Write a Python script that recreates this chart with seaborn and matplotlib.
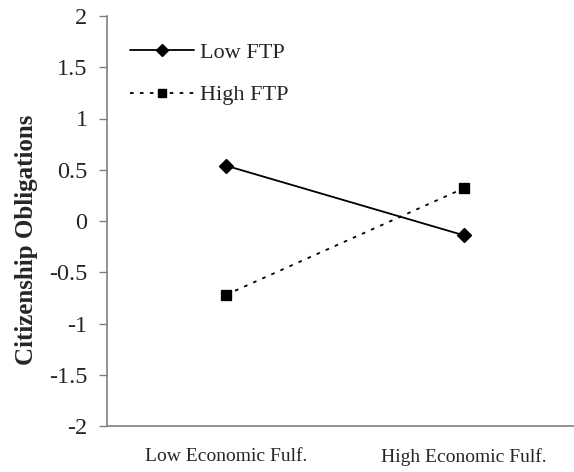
import matplotlib
matplotlib.use("Agg")
import matplotlib.pyplot as plt
from matplotlib.lines import Line2D
import seaborn as sns
import pandas as pd

conditions = ["Low Economic Fulf.", "High Economic Fulf."]
groups = ["Low FTP", "High FTP"]
low_ftp = [0.54, -0.14]
high_ftp = [-0.72, 0.32]
y_ticks = [-2, -1.5, -1, -0.5, 0, 0.5, 1, 1.5, 2]

df = pd.DataFrame({
    "condition": conditions * 2,
    "group": [groups[0]] * 2 + [groups[1]] * 2,
    "value": low_ftp + high_ftp,
})

sns.set_style("white")
plt.rcParams["font.family"] = ["Liberation Serif", "DejaVu Serif"]

dotted = (0, (2, 3.5))

fig = plt.figure(figsize=(5.74, 4.72), dpi=100)
ax = fig.add_axes([107 / 574, 1 - 426 / 472, 476 / 574, 410 / 472])

sns.pointplot(data=df, x="condition", y="value", hue="group", order=conditions,
              hue_order=groups, palette=["black", "black"], markers=["D", "s"],
              linestyles=["-", dotted], markersize=7, linewidth=1.3,
              legend=False, ax=ax)

lines = [l for l in ax.get_lines() if len(l.get_xdata()) == 2]
for l, ms in zip(lines, [7, 6.5]):
    l.set_markersize(ms)

ax.set_xlim(-0.5, 1.5)
ax.set_ylim(-2, 2)
ax.set_yticks(y_ticks)
ax.set_yticklabels([f"{t:g}" for t in y_ticks])
ax.set_xticks([0, 1])
ax.set_xticklabels(conditions)
ax.set_xticks([-0.5, 0.5, 1.5], minor=True)
ax.tick_params(axis="x", which="major", length=0, labelsize=14, pad=16)
ax.tick_params(axis="x", which="minor", length=5, width=1, color="#808080", direction="out")
ax.tick_params(axis="y", length=6, width=1, color="#808080", direction="out",
               labelsize=17.5, left=True, pad=8)
ax.set_xlabel("")
ax.set_ylabel("Citizenship Obligations", fontsize=18, fontweight="bold")
ax.yaxis.set_label_coords(-0.145, 0.455)

for side in ["top", "right"]:
    ax.spines[side].set_visible(False)
for side in ["left", "bottom"]:
    ax.spines[side].set_color("#808080")
    ax.spines[side].set_linewidth(1.2)

handles = [
    Line2D([], [], color="black", linestyle="-", marker="D", markersize=6, linewidth=1.3),
    Line2D([], [], color="black", linestyle=dotted, marker="s", markersize=6, linewidth=1.3),
]
ax.legend(handles, groups, loc="upper left", bbox_to_anchor=(0.048, 0.935), frameon=False,
          fontsize=16, handlelength=2.9, handletextpad=0.25, labelspacing=0.97,
          borderpad=0, borderaxespad=0)

fig.savefig("out.png", dpi=100)
